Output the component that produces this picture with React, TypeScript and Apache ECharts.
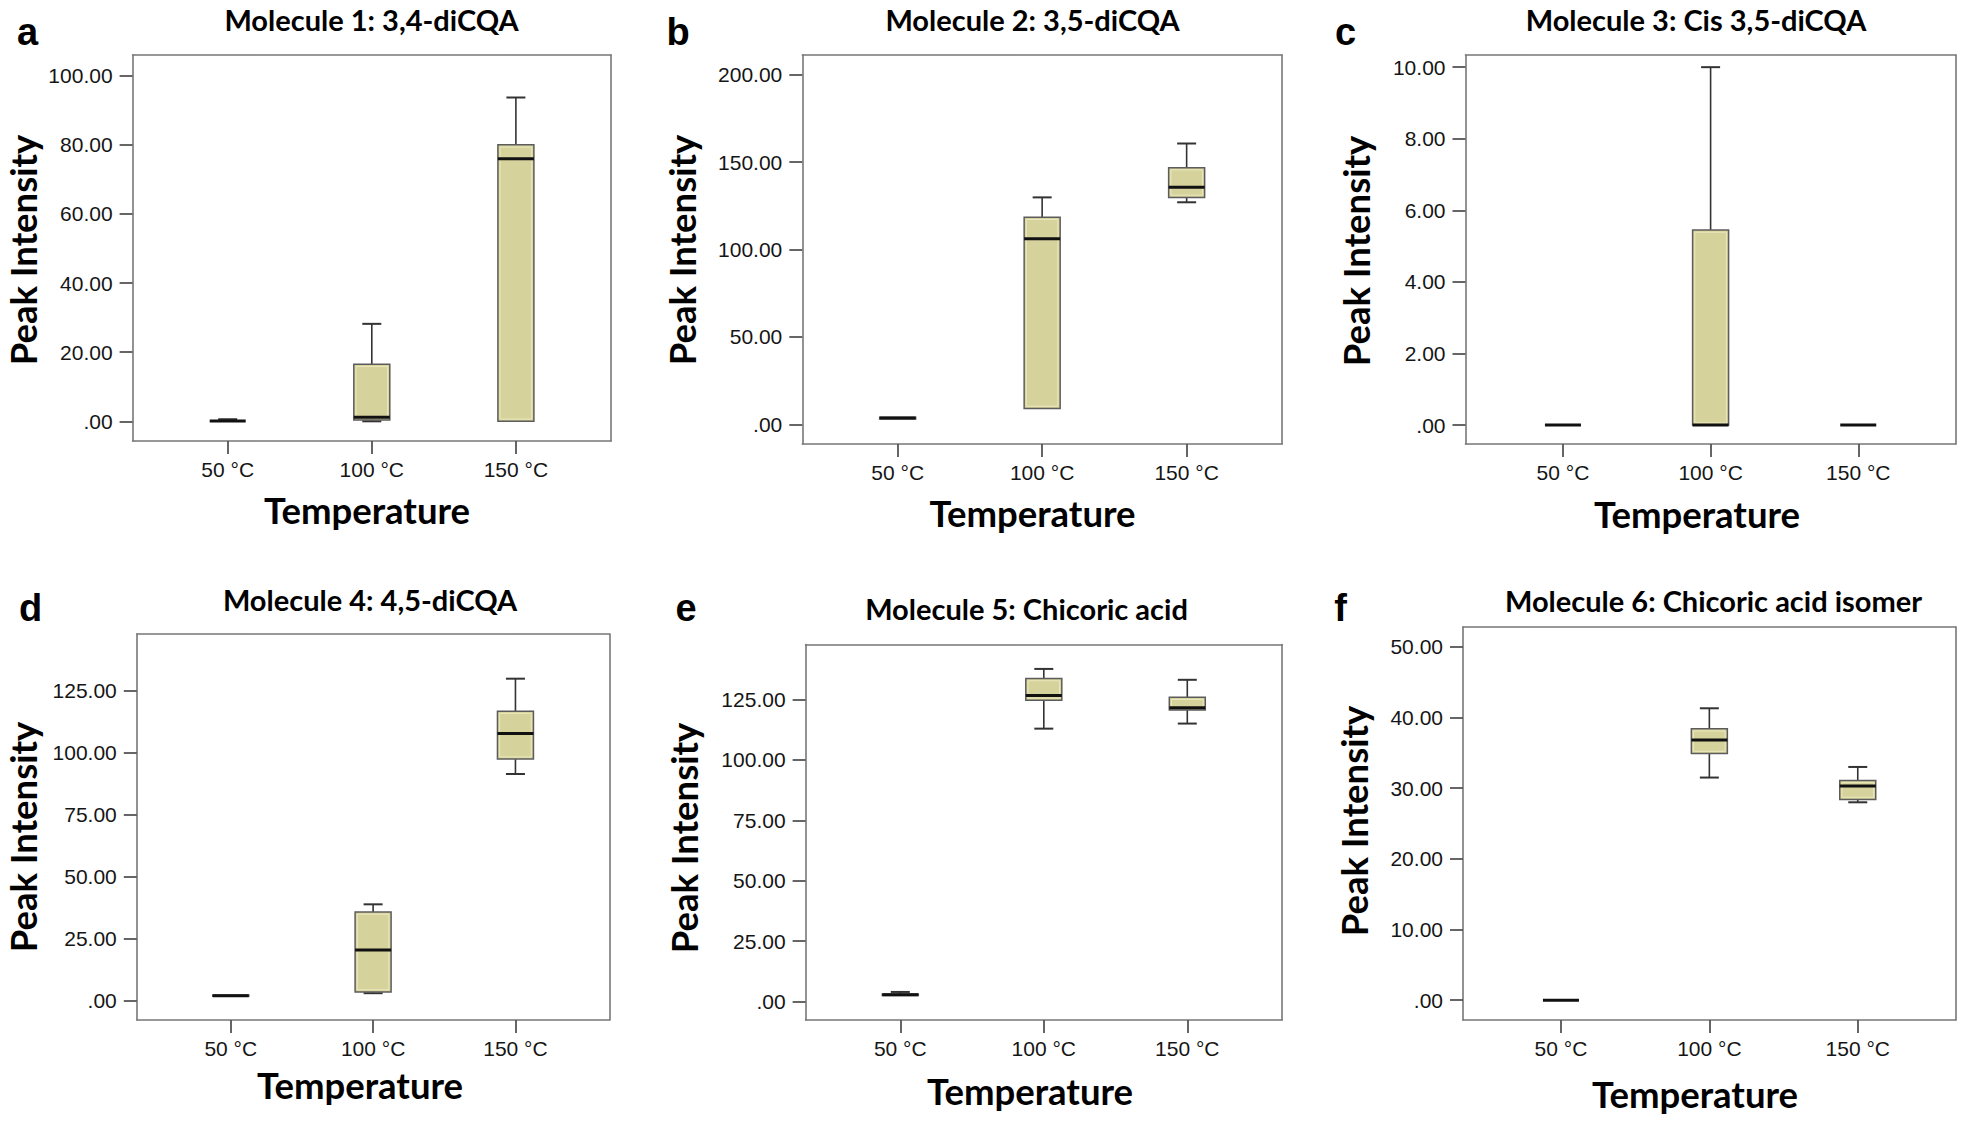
import React, { useEffect, useRef } from 'react';
import * as echarts from 'echarts';

// ---------- data ----------
const categories = ['50 °C', '100 °C', '150 °C'];
const categoryPositions = [1, 2, 3];
const panelLetters = ['a', 'b', 'c', 'd', 'e', 'f'];
const panelTitles = [
  'Molecule 1: 3,4-diCQA',
  'Molecule 2: 3,5-diCQA',
  'Molecule 3: Cis 3,5-diCQA',
  'Molecule 4: 4,5-diCQA',
  'Molecule 5: Chicoric acid',
  'Molecule 6: Chicoric acid isomer',
];
const xAxisTitle = 'Temperature';
const yAxisTitle = 'Peak Intensity';

// each row: [min, Q1, median, Q3, max] for 50 °C, 100 °C, 150 °C
const mol1Stats = [
  [0, 0, 0.1, 0.2, 0.6],
  [0, 0.4, 1.2, 16.5, 28.2],
  [0, 0, 76.0, 80.0, 93.7],
];
const mol2Stats = [
  [2.9, 3.1, 3.6, 4.1, 4.4],
  [9.0, 9.1, 106.2, 118.4, 129.8],
  [127.0, 129.8, 135.6, 146.8, 160.6],
];
const mol3Stats = [
  [0, 0, 0, 0, 0],
  [0, 0, 0, 5.45, 10.0],
  [0, 0, 0, 0, 0],
];
const mol4Stats = [
  [1.6, 1.8, 2.0, 2.3, 2.5],
  [3.0, 3.5, 20.4, 35.7, 38.8],
  [91.3, 97.3, 107.6, 116.6, 129.7],
];
const mol5Stats = [
  [2.3, 2.5, 2.8, 3.2, 4.0],
  [112.9, 124.6, 126.6, 133.6, 137.6],
  [115.0, 120.6, 121.5, 125.9, 133.1],
];
const mol6Stats = [
  [0, 0, 0, 0, 0],
  [31.5, 34.9, 36.8, 38.4, 41.3],
  [28.0, 28.4, 30.3, 31.1, 33.0],
];

const mol1Ticks = [0, 20, 40, 60, 80, 100];
const mol2Ticks = [0, 50, 100, 150, 200];
const mol3Ticks = [0, 2, 4, 6, 8, 10];
const mol4Ticks = [0, 25, 50, 75, 100, 125];
const mol5Ticks = [0, 25, 50, 75, 100, 125];
const mol6Ticks = [0, 10, 20, 30, 40, 50];

const allStats = [mol1Stats, mol2Stats, mol3Stats, mol4Stats, mol5Stats, mol6Stats];
const allTicks = [mol1Ticks, mol2Ticks, mol3Ticks, mol4Ticks, mol5Ticks, mol6Ticks];
const yExtents = [
  [-5.7, 106.0],
  [-11.2, 211.2],
  [-0.53, 10.34],
  [-7.8, 147.7],
  [-7.6, 147.7],
  [-2.8, 52.8],
];
const xExtent = [0.34, 3.66];

// ---------- layout ----------
const layouts = [
  { l: 132.6, r: 611, t: 55, b: 441, title: [371.5, 19], letter: [27.5, 31.8], xName: [367, 510], yName: [23, 250] },
  { l: 802.3, r: 1282, t: 55, b: 444, title: [1032.5, 19], letter: [678, 31.6], xName: [1032.5, 513], yName: [681.5, 250] },
  { l: 1465.5, r: 1955.7, t: 55, b: 444, title: [1696, 19], letter: [1345.5, 31.6], xName: [1697, 514], yName: [1355.5, 251] },
  { l: 136.8, r: 609.4, t: 634, b: 1020, title: [370, 599], letter: [30.5, 607.8], xName: [360, 1085], yName: [23, 837] },
  { l: 805.6, r: 1282, t: 644.5, b: 1020, title: [1026.5, 608], letter: [686, 607.8], xName: [1030, 1091], yName: [683.5, 838] },
  { l: 1463, r: 1955.7, t: 627, b: 1020, title: [1713.5, 600], letter: [1340.5, 607.8], xName: [1695, 1094], yName: [1353.5, 821] },
];

const N = layouts.length;
const BOX_W = 36;
const CAP_W = 19;
const TICK_LEN = 13;
const TICK_W = 1.8;
const BOX_FILL = '#d6d29b';
const BOX_STROKE = '#5c5c5c';
const FRAME = '#777777';
const TICK_COLOR = '#555555';
const TITLE_FONT = 'Lato, "Open Sans", sans-serif';
const NUM_FONT = '"Liberation Sans", Arial, sans-serif';

const fmt = (v: number) => (v === 0 ? '.00' : v.toFixed(2));

const renderBox = (params: any, api: any) => {
  const x = api.value(0);
  const mn = api.value(1);
  const q1 = api.value(2);
  const md = api.value(3);
  const q3 = api.value(4);
  const mx = api.value(5);
  const pMin = api.coord([x, mn]);
  const pQ1 = api.coord([x, q1]);
  const pMd = api.coord([x, md]);
  const pQ3 = api.coord([x, q3]);
  const pMax = api.coord([x, mx]);
  const cx = pMd[0];
  const half = BOX_W / 2;
  const capHalf = CAP_W / 2;
  const whisker = { stroke: '#333333', lineWidth: 1.6 };
  const cap = { stroke: '#333333', lineWidth: 2 };
  const children: any[] = [];
  if (pMax[1] < pQ3[1] - 0.8) {
    children.push({ type: 'line', shape: { x1: cx, y1: pQ3[1], x2: cx, y2: pMax[1] }, style: whisker });
    children.push({ type: 'line', shape: { x1: cx - capHalf, y1: pMax[1], x2: cx + capHalf, y2: pMax[1] }, style: cap });
  }
  if (pMin[1] > pQ1[1] + 0.8) {
    children.push({ type: 'line', shape: { x1: cx, y1: pQ1[1], x2: cx, y2: pMin[1] }, style: whisker });
    children.push({ type: 'line', shape: { x1: cx - capHalf, y1: pMin[1], x2: cx + capHalf, y2: pMin[1] }, style: cap });
  }
  const h = pQ1[1] - pQ3[1];
  if (h > 0.8) {
    children.push({
      type: 'rect',
      shape: { x: cx - half, y: pQ3[1], width: BOX_W, height: h },
      style: { fill: BOX_FILL, stroke: BOX_STROKE, lineWidth: 1.5 },
    });
    if (h > 6) {
      children.push({
        type: 'rect',
        shape: { x: cx - half + 2.2, y: pQ3[1] + 2.2, width: BOX_W - 4.4, height: h - 4.4 },
        style: { fill: 'none', stroke: '#ebe8bd', lineWidth: 1 },
      });
    }
  }
  children.push({
    type: 'line',
    shape: { x1: cx - half, y1: pMd[1], x2: cx + half, y2: pMd[1] },
    style: { stroke: '#111111', lineWidth: 3 },
  });
  return { type: 'group', children };
};

const buildTextGraphics = () => {
  const graphic: any[] = [];
  layouts.forEach((p, i) => {
    graphic.push({
      type: 'text',
      x: p.title[0],
      y: p.title[1],
      style: {
        text: panelTitles[i],
        fontFamily: TITLE_FONT,
        fontWeight: 'bold',
        fontSize: 29,
        fill: '#000000',
        align: 'center',
        verticalAlign: 'middle',
      },
    });
    graphic.push({
      type: 'text',
      x: p.letter[0],
      y: p.letter[1],
      style: {
        text: panelLetters[i],
        fontFamily: NUM_FONT,
        fontWeight: 'bold',
        fontSize: 38,
        fill: '#000000',
        align: 'center',
        verticalAlign: 'middle',
      },
    });
    graphic.push({
      type: 'text',
      x: p.xName[0],
      y: p.xName[1],
      style: {
        text: xAxisTitle,
        fontFamily: TITLE_FONT,
        fontWeight: 'bold',
        fontSize: 36.5,
        fill: '#000000',
        align: 'center',
        verticalAlign: 'middle',
      },
    });
    graphic.push({
      type: 'text',
      x: p.yName[0],
      y: p.yName[1],
      rotation: Math.PI / 2,
      style: {
        text: yAxisTitle,
        fontFamily: TITLE_FONT,
        fontWeight: 'bold',
        fontSize: 36.5,
        fill: '#000000',
        align: 'center',
        verticalAlign: 'middle',
      },
    });
  });
  return graphic;
};

const buildOption = () => {
  // plotting grids exactly on the frames; the frame itself is drawn by four axis lines
  const grids = layouts.map((p) => ({
    left: p.l,
    top: p.t,
    width: p.r - p.l,
    height: p.b - p.t,
    show: false,
    containLabel: false,
  }));
  const tickStyle = { color: TICK_COLOR, width: TICK_W };
  const lineStyle = { color: FRAME, width: 1.6 };

  const mainX = layouts.map((p, i) => ({
    gridIndex: i,
    type: 'value',
    position: 'bottom',
    min: xExtent[0],
    max: xExtent[1],
    axisLine: { show: true, onZero: false, lineStyle },
    splitLine: { show: false },
    axisTick: { show: true, inside: false, customValues: categoryPositions, length: TICK_LEN, lineStyle: tickStyle },
    axisLabel: {
      customValues: categoryPositions,
      formatter: (v: number) => categories[Math.round(v) - 1],
      margin: 28,
      verticalAlign: 'middle',
      fontSize: 21,
      fontFamily: NUM_FONT,
      color: '#151515',
    },
  }));
  // top side of the frame
  const topX = layouts.map((p, i) => ({
    gridIndex: i,
    type: 'value',
    position: 'top',
    min: xExtent[0],
    max: xExtent[1],
    axisLine: { show: true, onZero: false, lineStyle },
    splitLine: { show: false },
    axisTick: { show: false },
    axisLabel: { show: false },
  }));
  const mainY = layouts.map((p, i) => ({
    gridIndex: i,
    type: 'value',
    position: 'left',
    min: yExtents[i][0],
    max: yExtents[i][1],
    axisLine: { show: true, onZero: false, lineStyle },
    splitLine: { show: false },
    axisTick: { show: true, inside: false, customValues: allTicks[i], length: TICK_LEN, lineStyle: tickStyle },
    axisLabel: {
      customValues: allTicks[i],
      formatter: (v: number) => fmt(v),
      margin: 20,
      fontSize: 21,
      fontFamily: NUM_FONT,
      color: '#151515',
    },
  }));
  // right side of the frame
  const rightY = layouts.map((p, i) => ({
    gridIndex: i,
    type: 'value',
    position: 'right',
    min: yExtents[i][0],
    max: yExtents[i][1],
    axisLine: { show: true, onZero: false, lineStyle },
    splitLine: { show: false },
    axisTick: { show: false },
    axisLabel: { show: false },
  }));

  const series = layouts.map((p, i) => ({
    type: 'custom',
    xAxisIndex: i,
    yAxisIndex: i,
    clip: false,
    renderItem: renderBox,
    encode: { x: 0, y: [1, 2, 3, 4, 5] },
    data: allStats[i].map((s, j) => [categoryPositions[j], ...s]),
    silent: true,
    z: 3,
  }));
  return {
    animation: false,
    backgroundColor: '#ffffff',
    grid: grids,
    xAxis: [...mainX, ...topX],
    yAxis: [...mainY, ...rightY],
    series,
    graphic: buildTextGraphics(),
  };
};

export default function App() {
  const ref = useRef<HTMLDivElement>(null);
  useEffect(() => {
    if (!ref.current) return;
    const chart = echarts.init(ref.current, undefined, { renderer: 'svg' });
    chart.setOption(buildOption() as any);
    return () => chart.dispose();
  }, []);
  return (
    <div
      ref={ref}
      style={{ position: 'fixed', left: 0, top: 0, width: 1961, height: 1121, background: '#fff' }}
    />
  );
}
